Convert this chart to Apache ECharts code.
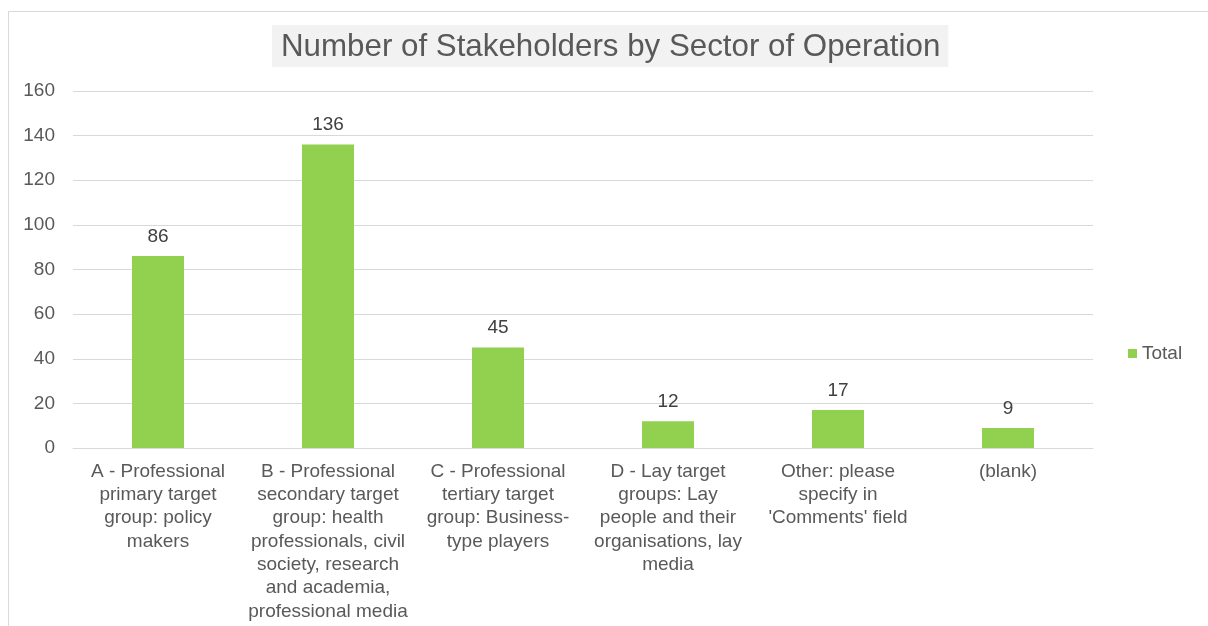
<!DOCTYPE html>
<html>
<head>
<meta charset="utf-8">
<script src="https://cdn.jsdelivr.net/npm/echarts@6/dist/echarts.min.js"></script>
<style>
  html, body { margin: 0; padding: 0; background: #ffffff; }
  #chart { width: 1208px; height: 626px; }
</style>
</head>
<body>
<div id="chart"></div>
<script>
// Sector categories (tick labels, wrapped as shown under the axis)
const categories = [
  'A - Professional\nprimary target\ngroup: policy\nmakers',
  'B - Professional\nsecondary target\ngroup: health\nprofessionals, civil\nsociety, research\nand academia,\nprofessional media',
  'C - Professional\ntertiary target\ngroup: Business-\ntype players',
  'D - Lay target\ngroups: Lay\npeople and their\norganisations, lay\nmedia',
  "Other: please\nspecify in\n'Comments' field",
  '(blank)'
];
// Number of stakeholders per sector
const totals = [86, 136, 45, 12, 17, 9];
const seriesName = 'Total';
const chartTitle = 'Number of Stakeholders by Sector of Operation';

const FONT = '"Liberation Sans", Arial, sans-serif';
const chart = echarts.init(document.getElementById('chart'), null, { renderer: 'canvas' });

chart.setOption({
  animation: false,
  backgroundColor: '#ffffff',
  textStyle: { fontFamily: FONT },
  graphic: [{
    type: 'rect',
    shape: { x: 8.5, y: 11.5, width: 1400, height: 800 },
    style: { fill: 'none', stroke: '#d9d9d9', lineWidth: 1 },
    silent: true,
    z: -1
  }],
  title: {
    text: chartTitle,
    left: 272,
    top: 25,
    backgroundColor: '#f2f2f2',
    padding: [6, 8, 4, 9],
    textStyle: {
      fontFamily: FONT,
      fontSize: 31.3,
      fontWeight: 'normal',
      color: '#595959',
      lineHeight: 32
    }
  },
  legend: {
    data: [seriesName],
    left: 1123,
    top: 339,
    itemWidth: 9,
    itemHeight: 9,
    icon: 'rect',
    textStyle: { fontFamily: FONT, fontSize: 19, color: '#595959' }
  },
  grid: { left: 73, right: 115, top: 91, bottom: 178, containLabel: false },
  xAxis: {
    type: 'category',
    data: categories,
    axisLine: { lineStyle: { color: '#d9d9d9', width: 1 } },
    axisTick: { show: false },
    axisLabel: {
      interval: 0,
      margin: 12,
      fontFamily: FONT,
      fontSize: 19,
      lineHeight: 23.3,
      color: '#595959',
      align: 'center'
    }
  },
  yAxis: {
    type: 'value',
    min: 0,
    max: 160,
    interval: 20,
    axisLine: { show: false },
    axisTick: { show: false },
    splitLine: { lineStyle: { color: '#d9d9d9', width: 1 } },
    axisLabel: { margin: 18, fontFamily: FONT, fontSize: 19, color: '#595959' }
  },
  series: [{
    name: seriesName,
    type: 'bar',
    data: totals,
    barWidth: 52,
    itemStyle: { color: '#92d050' },
    label: {
      show: true,
      position: 'top',
      distance: 10,
      fontFamily: FONT,
      fontSize: 19,
      color: '#404040'
    }
  }]
});
</script>
</body>
</html>
